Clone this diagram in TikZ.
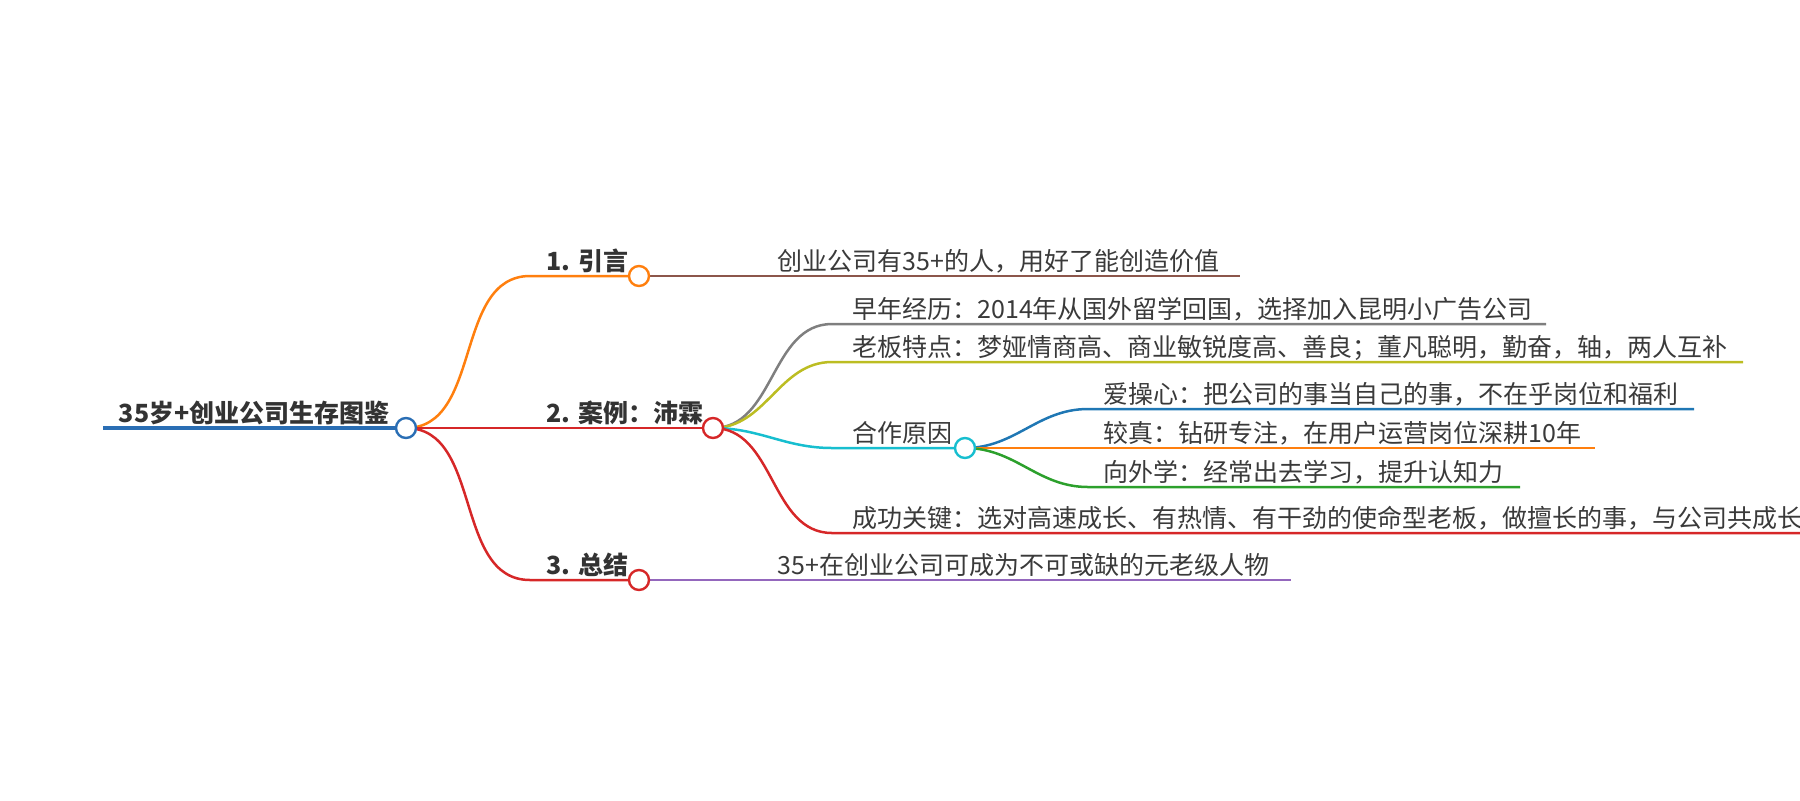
\documentclass[tikz,border=0pt]{standalone}
\usepackage{fontspec}
\setmainfont{Noto Sans CJK SC}
\usetikzlibrary{backgrounds}
\definecolor{ink}{HTML}{333333}
\definecolor{leafink}{HTML}{3A3A3A}
\definecolor{cRoot}{HTML}{2A6EB4}
\definecolor{cOrange}{HTML}{FF7F0E}
\definecolor{cRed}{HTML}{D62728}
\definecolor{cBrown}{HTML}{8C564B}
\definecolor{cPurple}{HTML}{9467BD}
\definecolor{cGray}{HTML}{7F7F7F}
\definecolor{cOlive}{HTML}{BCBD22}
\definecolor{cCyan}{HTML}{17BECF}
\definecolor{cBlue}{HTML}{1F77B4}
\definecolor{cGreen}{HTML}{2CA02C}
\tikzset{
  hub/.style={circle, draw=#1, fill=white, line width=1.2pt, minimum size=10pt, inner sep=0pt},
  head/.style={font=\bfseries\fontsize{12.5}{15}\selectfont, text=ink, inner sep=0pt},
  leaf/.style={font=\fontsize{12.5}{15}\selectfont, text=leafink, inner sep=0pt},
  wire/.style={draw=#1, line width=1.25pt},
}
\begin{document}
\begin{tikzpicture}[x=0.5pt,y=-0.5pt]
  \useasboundingbox (0,0) rectangle (1800,800);
  % hubs
  \node[hub=cRoot] (root) at (406,428) {};
  \node[hub=cOrange] (1) at (639,276) {};
  \node[hub=cRed] (2) at (713,428) {};
  \node[hub=cRed] (3) at (639,580) {};
  \node[hub=cCyan] (2c) at (965,448) {};
  % bends and line ends
  \coordinate (s) at (103,428);
  \coordinate (k1) at (530,276);
  \coordinate (k3) at (530,580);
  \coordinate (e1) at (1240,276);
  \coordinate (e3) at (1291,580);
  \coordinate (k2a) at (832,324);
  \coordinate (k2b) at (832,362);
  \coordinate (k2c) at (832,448);
  \coordinate (k2d) at (832,533);
  \coordinate (e2a) at (1546,324);
  \coordinate (e2b) at (1743,362);
  \coordinate (e2d) at (1800,533);
  \coordinate (kca) at (1088,409);
  \coordinate (kcc) at (1088,487);
  \coordinate (eca) at (1694,409);
  \coordinate (ecb) at (1595,448);
  \coordinate (ecc) at (1520,487);
  % labels
  \node[head, anchor=base east] (t0) at (390,422) {35岁+创业公司生存图鉴};
  \node[head, anchor=base west] (t1) at (546,270) {1. 引言};
  \node[head, anchor=base west] (t2) at (546,422) {2. 案例：沛霖};
  \node[head, anchor=base west] (t3) at (546,574) {3. 总结};
  \node[leaf, anchor=base west] (l1) at (777,270) {创业公司有35+的人，用好了能创造价值};
  \node[leaf, anchor=base west] (l3) at (777,574) {35+在创业公司可成为不可或缺的元老级人物};
  \node[leaf, anchor=base west] (l2a) at (852,318) {早年经历：2014年从国外留学回国，选择加入昆明小广告公司};
  \node[leaf, anchor=base west] (l2b) at (852,356) {老板特点：梦娅情商高、商业敏锐度高、善良；董凡聪明，勤奋，轴，两人互补};
  \node[leaf, anchor=base west] (l2c) at (852,442) {合作原因};
  \node[leaf, anchor=base west] (l2d) at (852,527) {成功关键：选对高速成长、有热情、有干劲的使命型老板，做擅长的事，与公司共成长};
  \node[leaf, anchor=base west] (lca) at (1103,403) {爱操心：把公司的事当自己的事，不在乎岗位和福利};
  \node[leaf, anchor=base west] (lcb) at (1103,442) {较真：钻研专注，在用户运营岗位深耕10年};
  \node[leaf, anchor=base west] (lcc) at (1103,481) {向外学：经常出去学习，提升认知力};
  \begin{scope}[on background layer]
    \draw[wire=cRoot, line width=1.75pt] (s) -- (root.center);
    \draw[wire=cOrange] (root.center) to[out=0,in=180] (k1) -- (1.center);
    \draw[wire=cRed] (root.center) -- (2.center);
    \draw[wire=cRed] (root.center) to[out=0,in=180] (k3) -- (3.center);
    \draw[wire=cBrown] (1.center) -- (e1);
    \draw[wire=cPurple] (3.center) -- (e3);
    \draw[wire=cGray] (2.center) to[out=0,in=180] (k2a) -- (e2a);
    \draw[wire=cOlive] (2.center) to[out=0,in=180] (k2b) -- (e2b);
    \draw[wire=cCyan] (2.center) to[out=0,in=180] (k2c) -- (2c.center);
    \draw[wire=cRed] (2.center) to[out=0,in=180] (k2d) -- (e2d);
    \draw[wire=cBlue] (2c.center) to[out=0,in=180] (kca) -- (eca);
    \draw[wire=cOrange] (2c.center) -- (ecb);
    \draw[wire=cGreen] (2c.center) to[out=0,in=180] (kcc) -- (ecc);
  \end{scope}
\end{tikzpicture}
\end{document}
